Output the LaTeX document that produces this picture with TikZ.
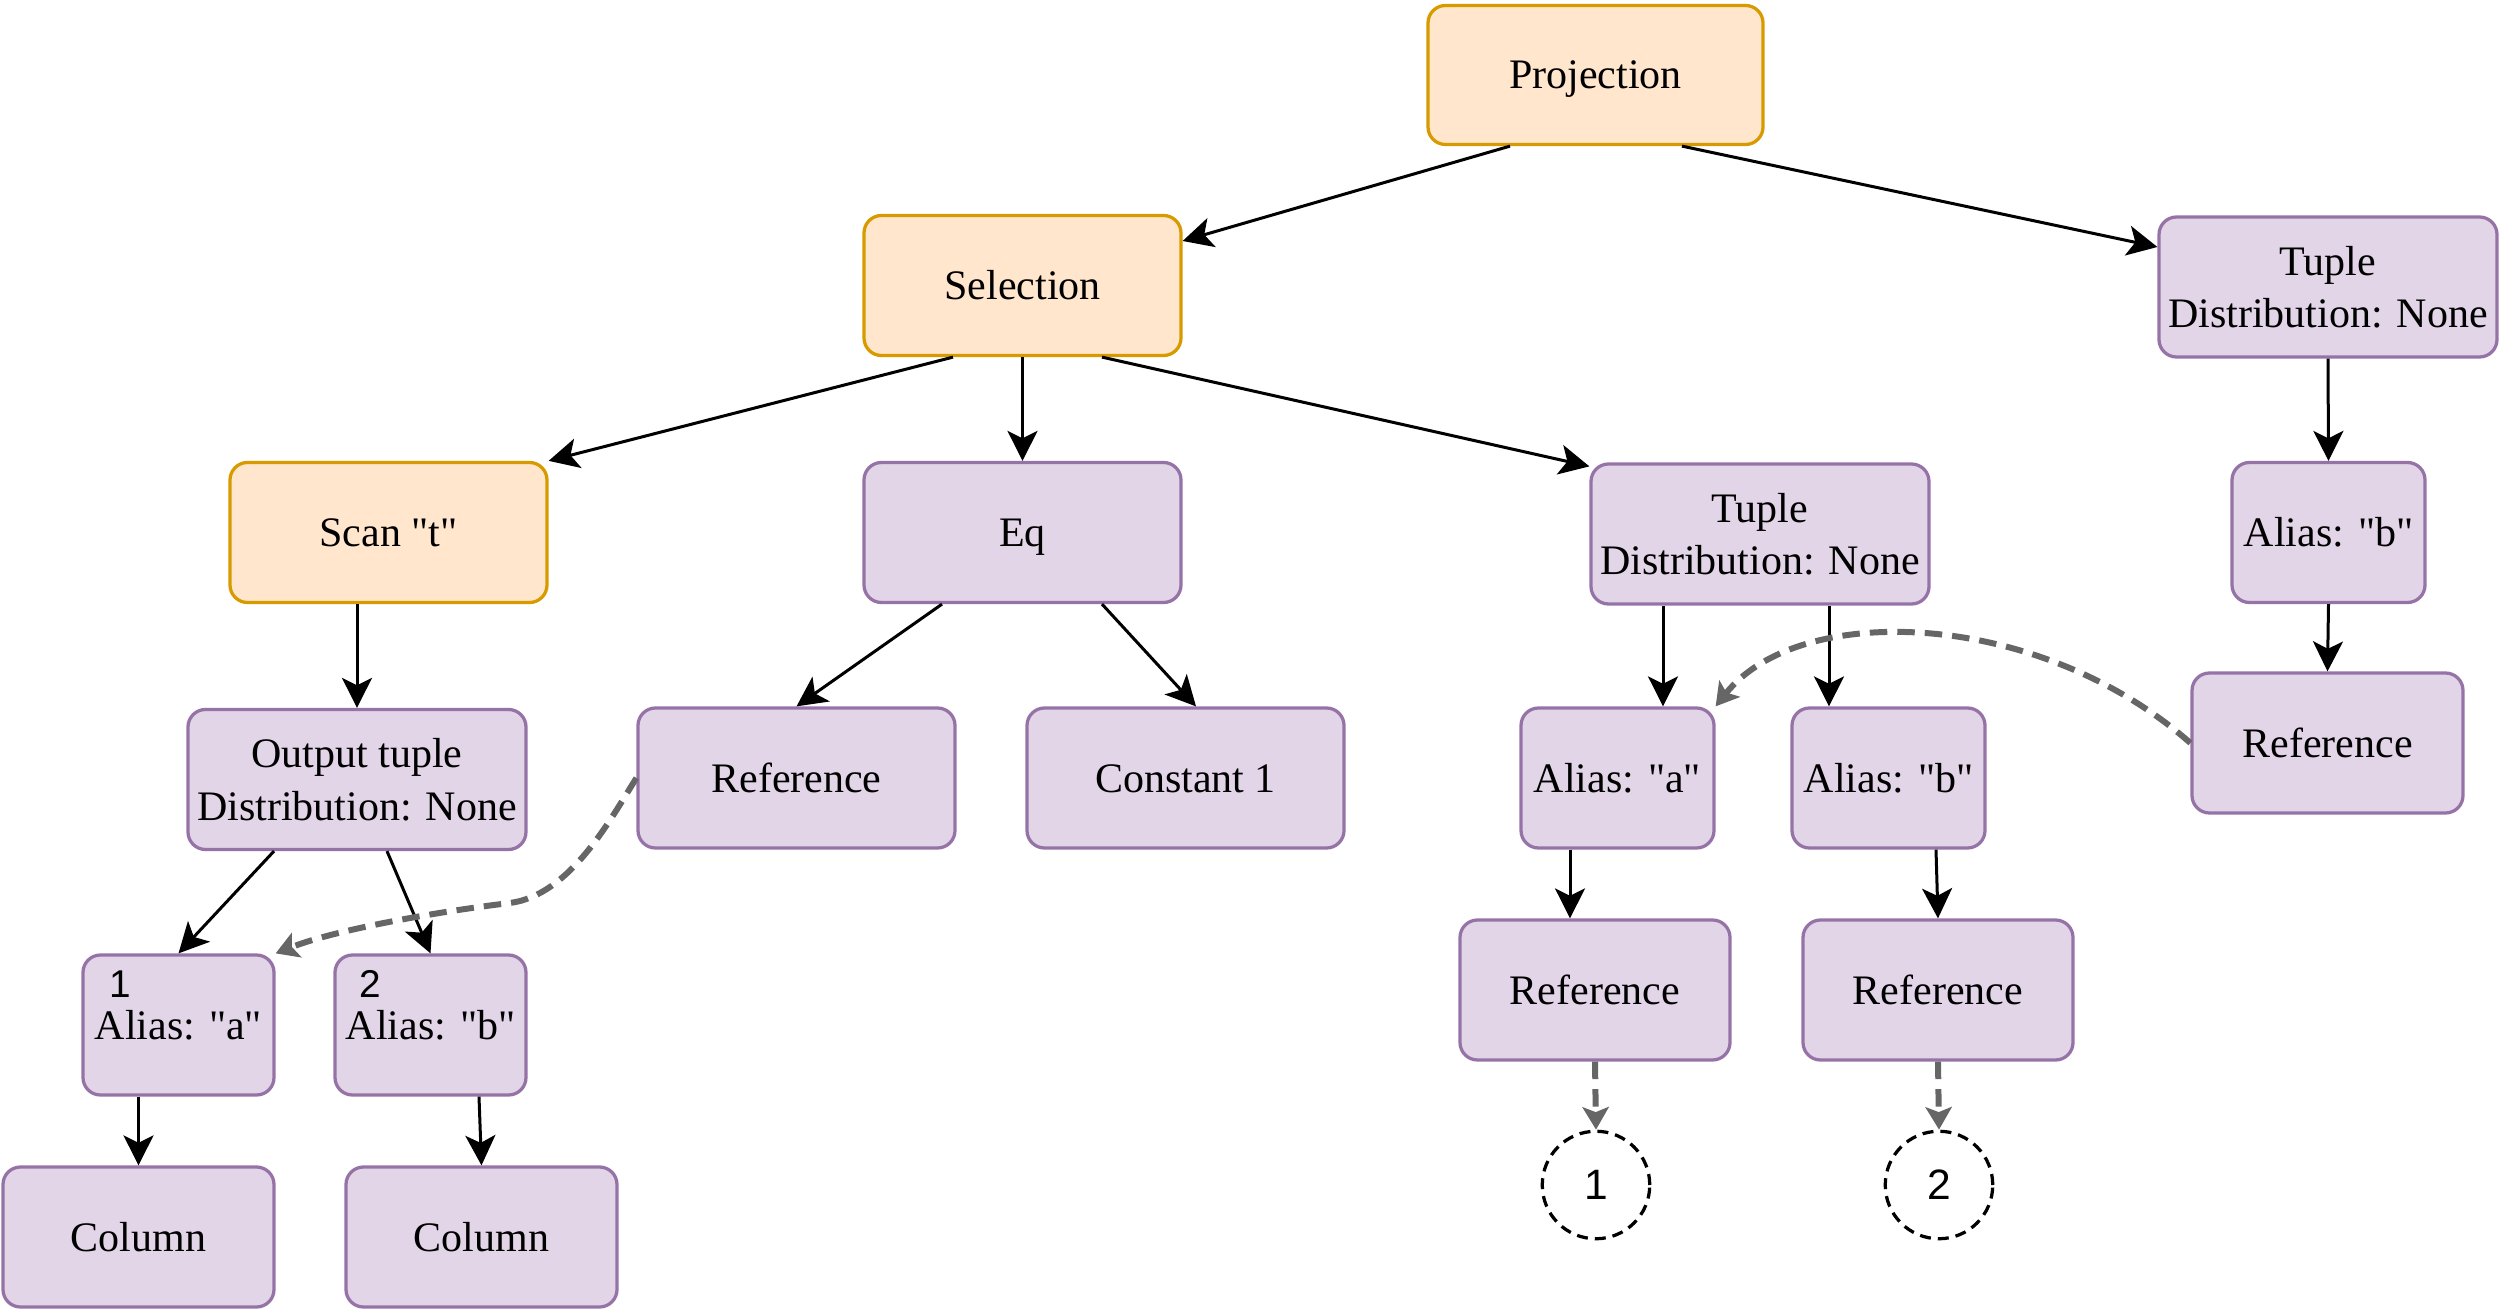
\documentclass[tikz,border=0pt]{standalone}
\usepackage{fontspec}
\setmainfont{Liberation Serif}[Ligatures=TeXOff]
\newfontfamily\digitfont{Liberation Sans}[Ligatures=TeXOff]
\usetikzlibrary{arrows.meta,calc}
\definecolor{orfill}{HTML}{FFE6CC}
\definecolor{ordraw}{HTML}{D79B00}
\definecolor{pufill}{HTML}{E1D5E7}
\definecolor{pudraw}{HTML}{9673A6}
\definecolor{dgray}{HTML}{666666}
\begin{document}
\begin{tikzpicture}[x=0.4pt,y=-0.4pt,
  box/.style={draw, rounded corners=7pt, line width=1.3pt, align=center, inner sep=0pt,
    minimum height=56pt, font=\fontsize{16.8}{21}\selectfont},
  oneline/.style={text height=14pt, text depth=2.8pt},
  obox/.style={box, fill=orfill, draw=ordraw},
  pbox/.style={box, fill=pufill, draw=pudraw},
  arr/.style={line width=1.2pt, -{Stealth[length=12pt,width=12pt,inset=3pt]}},
  darr/.style={line width=2.4pt, dgray, dash pattern=on 7pt off 4pt,
    -{Stealth[length=9pt,width=10.5pt,inset=2pt]}},
  refc/.style={circle, draw, dash pattern=on 4.4pt off 2.8pt, line width=1.3pt,
    minimum size=43pt, inner sep=0pt, font=\digitfont\fontsize{17}{20}\selectfont},
  numlbl/.style={inner sep=0pt, font=\digitfont\fontsize{15.5}{18}\selectfont},
  ]
\useasboundingbox (0,0) rectangle (2500,1311);

% level 0
\node[obox, oneline, minimum width=134pt, minimum height=55.6pt] (proj) at (1595.5,75) {Projection};
% level 1
\node[obox, oneline, minimum width=126.8pt] (sel) at (1022.5,285.5) {Selection};
\node[pbox, minimum width=135.2pt] (tupR) at (2328,287) {Tuple\\Distribution: None};
% level 2
\node[obox, oneline, minimum width=126.8pt] (scan) at (388.5,532.5) {Scan "t"};
\node[pbox, oneline, minimum width=126.8pt] (eq) at (1022.5,532.5) {Eq};
\node[pbox, minimum width=135.2pt] (tupM) at (1760,534) {Tuple\\Distribution: None};
\node[pbox, oneline, minimum width=77.2pt] (aliasBR) at (2328.5,532.5) {Alias: "b"};
% level 3
\node[pbox, minimum width=135.2pt] (out) at (357,779.5) {Output tuple\\Distribution: None};
\node[pbox, oneline, minimum width=126.8pt] (ref1) at (796.5,778) {Reference};
\node[pbox, oneline, minimum width=126.8pt] (const) at (1185.5,778) {Constant 1};
\node[pbox, oneline, minimum width=77.2pt] (aliasA) at (1617.5,778) {Alias: "a"};
\node[pbox, oneline, minimum width=77.2pt] (aliasB) at (1888.5,778) {Alias: "b"};
\node[pbox, oneline, minimum width=108.4pt] (refR) at (2327.5,743) {Reference};
% level 4
\node[pbox, oneline, minimum width=76.4pt] (a1) at (178.5,1025) {Alias: "a"};
\node[pbox, oneline, minimum width=76.4pt] (a2) at (430.5,1025) {Alias: "b"};
\node[numlbl] (n1) at (120,984) {1};
\node[numlbl] (n2) at (370,984) {2};
\node[pbox, oneline, minimum width=108pt] (refA) at (1595,990) {Reference};
\node[pbox, oneline, minimum width=108pt] (refB) at (1938,990) {Reference};
% level 5
\node[pbox, oneline, minimum width=108.4pt] (col1) at (138.5,1237) {Column};
\node[pbox, oneline, minimum width=108.4pt] (col2) at (481.5,1237) {Column};
\node[refc] (c1) at (1596,1185) {1};
\node[refc] (c2) at (1939,1185) {2};

% solid connectors
\draw[arr] ($(proj.south)+(-85.5,0)$) -- ($(sel.east)+(0,-44.5)$);
\draw[arr] ($(proj.south)+(86.5,0)$) -- ($(tupR.west)+(0,-40)$);
\draw[arr] ($(sel.south)+(-69.5,0)$) -- (scan.north east);
\draw[arr] (sel.south) -- (eq.north);
\draw[arr] ($(sel.south)+(79.5,0)$) -- ($(tupM.north west)+(0,4)$);
\draw[arr] (tupR.south) -- (aliasBR.north);
\draw[arr] (scan.south -| out.north) -- (out.north);
\draw[arr] ($(eq.south)+(-80.5,0)$) -- (ref1.north);
\draw[arr] ($(eq.south)+(79.5,0)$) -- ($(const.north)+(10.5,0)$);
\draw[arr] ($(tupM.south)+(-97,0)$) -- ($(aliasA.north)+(45.5,0)$);
\draw[arr] ($(tupM.south)+(69,0)$) -- ($(aliasB.north)+(-59.5,0)$);
\draw[arr] (aliasBR.south) -- (refR.north);
\draw[arr] ($(out.south)+(-83,0)$) -- (a1.north);
\draw[arr] ($(out.south)+(30,0)$) -- (a2.north);
\draw[arr] ($(a1.south)+(-40,0)$) -- (col1.north);
\draw[arr] ($(a2.south)+(48.5,0)$) -- (col2.north);
\draw[arr] ($(aliasA.south)+(-47.5,0)$) -- ($(refA.north)+(-25,0)$);
\draw[arr] ($(aliasB.south)+(47.5,0)$) -- (refB.north);

% dashed references
\draw[darr] (refA.south) -- (c1.north);
\draw[darr] (refB.south) -- (c2.north);
\draw[darr] (ref1.west) .. controls (610,820) and (570,895) .. (510,903)
  .. controls (450,910) and (340,928) .. (a1.north east);
\draw[darr] (refR.west) .. controls (2040,610) and (1800,600) .. (aliasA.north east);
\end{tikzpicture}
\end{document}
